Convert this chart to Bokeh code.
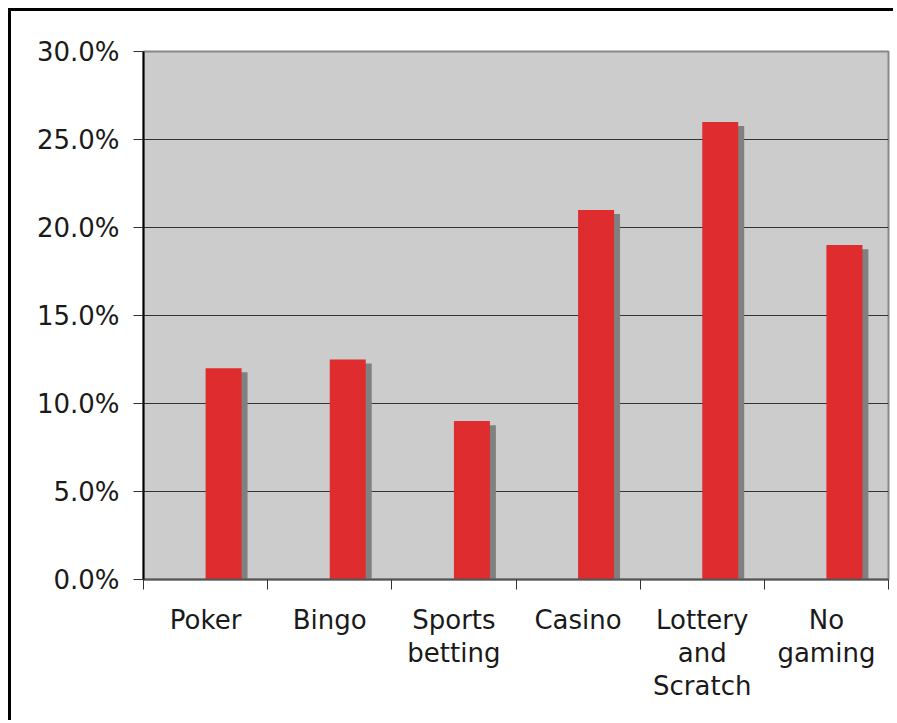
from bokeh.plotting import figure
from bokeh.models import Range1d, FixedTicker, NumeralTickFormatter
from bokeh.embed import file_html
from bokeh.resources import INLINE

categories = ["Poker", "Bingo", "Sports\nbetting", "Casino", "Lottery\nand\nScratch", "No\ngaming"]
shares = [0.12, 0.125, 0.09, 0.21, 0.26, 0.19]
y_ticks = [0.0, 0.05, 0.10, 0.15, 0.20, 0.25, 0.30]

n = len(categories)
centers = [i + 0.5 for i in range(n)]
bounds = [float(i) for i in range(n + 1)]
bar_x = [c + 0.145 for c in centers]
shadow_x = [c + 0.145 + 0.048 for c in centers]
shadow_top = [v - 0.0023 for v in shares]

FONT = "DejaVu Sans"

p = figure(width=885, height=712, output_backend="svg", toolbar_location=None,
           x_range=Range1d(0, n), y_range=Range1d(0, 0.30),
           min_border_left=132, min_border_right=8, min_border_top=40,
           min_border_bottom=144)
p.styles = {"border-top": "3px solid black", "border-left": "3px solid black",
            "margin-top": "8px", "margin-left": "8px"}

p.background_fill_color = "#cccccc"
p.border_fill_color = "white"
p.outline_line_color = "#888888"
p.outline_line_width = 2

p.vbar(x=shadow_x, top=shadow_top, bottom=0, width=0.29, fill_color="#808080", line_color=None)
p.vbar(x=bar_x, top=shares, bottom=0, width=0.29, fill_color="#de2c2f", line_color=None)

# grid
p.xgrid.grid_line_color = None
p.ygrid.ticker = FixedTicker(ticks=y_ticks)
p.ygrid.grid_line_color = "#333333"
p.ygrid.grid_line_width = 1

# y axis
ya = p.yaxis[0]
ya.ticker = FixedTicker(ticks=y_ticks)
ya.formatter = NumeralTickFormatter(format="0.0%")
ya.axis_line_color = "black"
ya.axis_line_width = 2
ya.major_tick_out = 10
ya.major_tick_in = 0
ya.major_tick_line_color = "#333333"
ya.minor_tick_line_color = None
ya.major_label_standoff = 14
ya.major_label_text_font = FONT
ya.major_label_text_font_size = "26px"
ya.major_label_text_color = "#1a1a1a"

# x axis
xa = p.xaxis[0]
xa.ticker = FixedTicker(ticks=centers, minor_ticks=bounds)
xa.major_label_overrides = {c: lab for c, lab in zip(centers, categories)}
xa.axis_line_color = "#555555"
xa.axis_line_width = 2
xa.major_tick_out = 0
xa.major_tick_in = 0
xa.major_tick_line_color = None
xa.minor_tick_out = 10
xa.minor_tick_in = 0
xa.minor_tick_line_color = "#333333"
xa.major_label_standoff = 15
xa.major_label_text_font = FONT
xa.major_label_text_font_size = "26px"
xa.major_label_text_color = "#1a1a1a"
xa.major_label_text_line_height = 1.1

open("out.html", "w").write(file_html(p, INLINE))
